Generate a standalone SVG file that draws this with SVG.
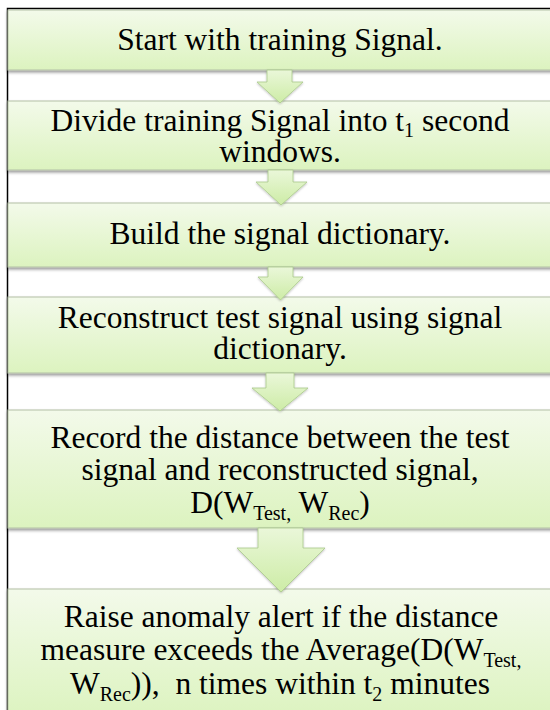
<svg xmlns="http://www.w3.org/2000/svg" width="550" height="710" viewBox="0 0 550 710">
<style>
.box{fill:url(#bg);stroke:#b3bfa6;stroke-width:1;filter:url(#sh)}
.arr{fill:url(#ag);stroke:#a9c98a;stroke-width:0.8;filter:url(#sh2)}
text{font-family:"Liberation Serif","Times New Roman",serif;font-size:31.5px;fill:#000;text-anchor:middle}
.sub{font-size:20px}
</style>
<defs>
<linearGradient id="bg" x1="0" y1="0" x2="0" y2="1">
<stop offset="0" stop-color="#f3faea"/>
<stop offset="1" stop-color="#dcf3bf"/>
</linearGradient>
<linearGradient id="ag" x1="0" y1="0" x2="0" y2="1">
<stop offset="0" stop-color="#eaf7d9"/>
<stop offset="1" stop-color="#cdeca6"/>
</linearGradient>
<filter id="sh" x="-5%" y="-10%" width="110%" height="130%">
<feDropShadow dx="0" dy="2" stdDeviation="1.5" flood-color="#000" flood-opacity="0.4"/>
</filter>
<filter id="sh2" x="-10%" y="-10%" width="120%" height="130%">
<feDropShadow dx="0" dy="1" stdDeviation="1" flood-color="#000" flood-opacity="0.25"/>
</filter>
</defs>
<rect width="550" height="710" fill="#fff"/>
<path d="M7.5,710 V8.5 H550" fill="none" stroke="#000" stroke-width="1.5"/>
<g id="n1"><rect class="box" x="8" y="10" width="550" height="60"/>
<text x="280" y="50">Start with training Signal.</text></g>
<g id="n2"><rect class="box" x="8" y="101" width="550" height="69"/>
<text x="280" y="131">Divide training Signal into t<tspan class="sub" dy="6">1</tspan><tspan dy="-6"> second</tspan></text>
<text x="280" y="162">windows.</text></g>
<g id="n3"><rect class="box" x="8" y="203" width="550" height="64"/>
<text x="280" y="244">Build the signal dictionary.</text></g>
<g id="n4"><rect class="box" x="8" y="297" width="550" height="76"/>
<text x="280" y="328">Reconstruct test signal using signal</text>
<text x="280" y="359">dictionary.</text></g>
<g id="n5"><rect class="box" x="8" y="410" width="550" height="118"/>
<text x="280" y="448">Record the distance between the test</text>
<text x="280" y="480">signal and reconstructed signal,</text>
<text x="280" y="513">D(W<tspan class="sub" dy="7">Test,</tspan><tspan dy="-7"> W</tspan><tspan class="sub" dy="7">Rec</tspan><tspan dy="-7">)</tspan></text></g>
<g id="n6"><rect class="box" x="8" y="589" width="550" height="130"/>
<text x="281" y="627">Raise anomaly alert if the distance</text>
<text x="281" y="660">measure exceeds the Average(D(W<tspan class="sub" dy="7">Test,</tspan></text>
<text x="280" y="694" xml:space="preserve">W<tspan class="sub" dy="7">Rec</tspan><tspan dy="-7">)),  n times within t</tspan><tspan class="sub" dy="7">2</tspan><tspan dy="-7"> minutes</tspan></text></g>
<g id="connectors">
<path class="arr" d="M267,70 H292 V82 H303 L280,103 L257,82 H267 Z"/>
<path class="arr" d="M268,170 H293 V182 H307 L281,205 L256,182 H268 Z"/>
<path class="arr" d="M268,267 H293 V277 H303 L280.5,300 L258,277 H268 Z"/>
<path class="arr" d="M266,373 H294 V388 H308 L280,411 L252,388 H266 Z"/>
<path class="arr" d="M258,528 H303 V548 H325 L281,592 L237,548 H258 Z"/>
</g>
</svg>
